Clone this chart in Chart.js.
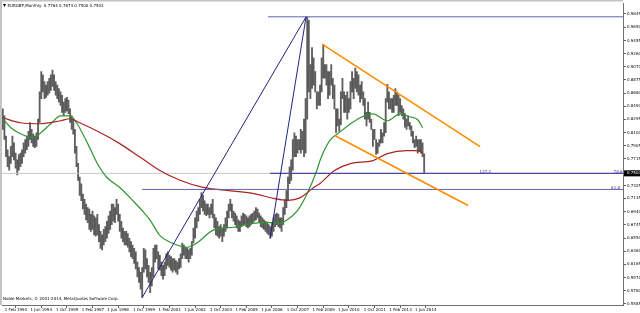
<!DOCTYPE html>
<html>
<head>
<meta charset="utf-8">
<script src="https://cdn.jsdelivr.net/npm/chart.js@4.4.0/dist/chart.umd.min.js"></script>
<style>
  html, body { margin: 0; padding: 0; background: #fff; }
  #wrap { position: relative; width: 640px; height: 313px; }
</style>
</head>
<body>
<div id="wrap"><canvas id="chart"></canvas></div>
<script>
// x values are month indexes, 0 = Feb 1993
const xTickMonths = [0, 16, 32, 48, 64, 80, 96, 112, 128, 144, 160, 176, 192, 208, 224, 240, 256];
const xTickLabels = ['1 Feb 1993', '1 Jun 1994', '1 Oct 1995', '1 Feb 1997', '1 Jun 1998', '1 Oct 1999',
  '1 Feb 2001', '1 Jun 2002', '1 Oct 2003', '1 Feb 2005', '1 Jun 2006', '1 Oct 2007', '1 Feb 2009',
  '1 Jun 2010', '1 Oct 2011', '1 Feb 2013', '1 Jun 2014'];
const yTickLabels = ['0.5585', '0.5780', '0.5970', '0.6165', '0.6360', '0.6550', '0.6745', '0.6940',
  '0.7135', '0.7325', '0.7520', '0.7715', '0.7905', '0.8100', '0.8295', '0.8490', '0.8680', '0.8875',
  '0.9070', '0.9260', '0.9455', '0.9650', '0.9845'];

const titleText = 'EURGBP,Monthly  0.7764 0.7674 0.7500 0.7503';
const footerText = 'Noble Markets, \u00a9 2001-2014, MetaQuotes Software Corp.';
const lastClose = 0.7503;

// monthly highs / lows, Feb 1993 .. Jan 2015
const highs = [
  0.845, 0.835, 0.805, 0.785, 0.775, 0.790, 0.805, 0.795, 0.780, 0.770, 0.778,           // 1993
  0.780, 0.785, 0.795, 0.800, 0.805, 0.812, 0.825, 0.815, 0.808, 0.805, 0.810, 0.830,    // 1994
  0.870, 0.900, 0.895, 0.885, 0.880, 0.885, 0.890, 0.895, 0.902, 0.895, 0.885, 0.880,    // 1995
  0.875, 0.870, 0.865, 0.855, 0.860, 0.862, 0.858, 0.845, 0.835, 0.830, 0.815, 0.790,    // 1996
  0.765, 0.745, 0.735, 0.720, 0.712, 0.705, 0.700, 0.698, 0.690, 0.695, 0.688, 0.685,    // 1997
  0.690, 0.675, 0.665, 0.660, 0.668, 0.672, 0.680, 0.688, 0.695, 0.705, 0.705, 0.700,    // 1998
  0.712, 0.705, 0.690, 0.680, 0.670, 0.665, 0.665, 0.662, 0.655, 0.650, 0.645, 0.640,    // 1999
  0.635, 0.620, 0.612, 0.605, 0.612, 0.640, 0.638, 0.625, 0.615, 0.605, 0.612, 0.640,    // 2000
  0.645, 0.645, 0.635, 0.630, 0.620, 0.615, 0.620, 0.632, 0.635, 0.630, 0.628, 0.625,    // 2001
  0.625, 0.622, 0.620, 0.625, 0.632, 0.648, 0.645, 0.642, 0.640, 0.638, 0.640, 0.650,    // 2002
  0.670, 0.685, 0.695, 0.700, 0.712, 0.722, 0.718, 0.710, 0.705, 0.705, 0.700, 0.705,    // 2003
  0.712, 0.690, 0.685, 0.680, 0.672, 0.675, 0.670, 0.675, 0.685, 0.695, 0.705, 0.712,    // 2004
  0.705, 0.695, 0.692, 0.688, 0.682, 0.680, 0.688, 0.692, 0.690, 0.688, 0.685, 0.688,    // 2005
  0.690, 0.692, 0.695, 0.700, 0.698, 0.692, 0.688, 0.685, 0.682, 0.680, 0.678, 0.675,    // 2006
  0.672, 0.678, 0.685, 0.690, 0.692, 0.690, 0.685, 0.685, 0.700, 0.712, 0.725, 0.745,    // 2007
  0.760, 0.770, 0.800, 0.810, 0.805, 0.800, 0.800, 0.815, 0.812, 0.830, 0.860, 0.980,    // 2008
  0.975, 0.910, 0.935, 0.920, 0.900, 0.870, 0.870, 0.880, 0.920, 0.940, 0.910, 0.910,    // 2009
  0.900, 0.900, 0.910, 0.890, 0.880, 0.845, 0.845, 0.830, 0.870, 0.890, 0.870, 0.865,    // 2010
  0.870, 0.860, 0.885, 0.900, 0.890, 0.905, 0.900, 0.895, 0.880, 0.885, 0.870, 0.860,    // 2011
  0.840, 0.855, 0.840, 0.830, 0.815, 0.815, 0.800, 0.795, 0.800, 0.815, 0.810, 0.825,    // 2012
  0.860, 0.881, 0.870, 0.860, 0.860, 0.865, 0.875, 0.870, 0.865, 0.860, 0.850, 0.845,    // 2013
  0.838, 0.830, 0.835, 0.825, 0.820, 0.812, 0.800, 0.805, 0.800, 0.800, 0.800, 0.795,    // 2014
  0.779                                                                                  // 2015
];
const lows = [
  0.815, 0.800, 0.775, 0.760, 0.755, 0.765, 0.775, 0.770, 0.758, 0.748, 0.755,
  0.760, 0.765, 0.775, 0.780, 0.785, 0.790, 0.800, 0.795, 0.790, 0.788, 0.790, 0.800,
  0.825, 0.860, 0.870, 0.860, 0.862, 0.865, 0.868, 0.872, 0.878, 0.872, 0.865, 0.860,
  0.855, 0.850, 0.840, 0.835, 0.840, 0.842, 0.838, 0.825, 0.815, 0.808, 0.780, 0.760,
  0.740, 0.718, 0.710, 0.698, 0.690, 0.682, 0.678, 0.668, 0.665, 0.668, 0.660, 0.658,
  0.660, 0.650, 0.640, 0.638, 0.645, 0.650, 0.655, 0.662, 0.668, 0.675, 0.680, 0.678,
  0.690, 0.680, 0.665, 0.655, 0.650, 0.645, 0.645, 0.642, 0.635, 0.628, 0.625, 0.618,
  0.610, 0.598, 0.590, 0.580, 0.568, 0.605, 0.610, 0.598, 0.590, 0.575, 0.585, 0.598,
  0.620, 0.625, 0.610, 0.608, 0.600, 0.595, 0.600, 0.610, 0.615, 0.612, 0.608, 0.605,
  0.608, 0.605, 0.602, 0.610, 0.612, 0.625, 0.630, 0.625, 0.625, 0.620, 0.625, 0.630,
  0.648, 0.655, 0.670, 0.680, 0.690, 0.700, 0.695, 0.690, 0.688, 0.690, 0.685, 0.690,
  0.685, 0.670, 0.660, 0.658, 0.655, 0.658, 0.650, 0.658, 0.665, 0.670, 0.685, 0.695,
  0.685, 0.680, 0.675, 0.670, 0.665, 0.665, 0.672, 0.675, 0.675, 0.672, 0.670, 0.672,
  0.675, 0.678, 0.680, 0.682, 0.685, 0.678, 0.672, 0.670, 0.668, 0.665, 0.662, 0.660,
  0.655, 0.658, 0.665, 0.672, 0.675, 0.672, 0.670, 0.665, 0.675, 0.690, 0.700, 0.710,
  0.735, 0.740, 0.755, 0.775, 0.775, 0.780, 0.785, 0.780, 0.785, 0.775, 0.780, 0.830,
  0.870, 0.860, 0.875, 0.880, 0.870, 0.845, 0.850, 0.850, 0.870, 0.890, 0.890, 0.880,
  0.860, 0.865, 0.880, 0.860, 0.845, 0.810, 0.820, 0.812, 0.822, 0.860, 0.840, 0.840,
  0.830, 0.840, 0.845, 0.870, 0.860, 0.875, 0.870, 0.865, 0.855, 0.860, 0.850, 0.830,
  0.820, 0.830, 0.825, 0.815, 0.790, 0.800, 0.778, 0.780, 0.790, 0.795, 0.795, 0.805,
  0.810, 0.855, 0.845, 0.845, 0.840, 0.840, 0.850, 0.850, 0.835, 0.840, 0.835, 0.830,
  0.818, 0.815, 0.820, 0.815, 0.805, 0.795, 0.788, 0.790, 0.780, 0.782, 0.780, 0.775,
  0.750
];

// moving averages (month, price)
const maFastMonths = [0, 5, 11, 19, 23, 30, 36, 42, 46, 53, 59, 65, 73, 81, 88, 92, 98, 106, 115, 121,
  131, 144, 156, 165, 173, 177, 184, 190, 196, 198, 204, 209, 223, 231, 240, 248, 254, 259, 262];
const maFastValues = [0.8305, 0.8174, 0.8086, 0.8027, 0.8086, 0.8232, 0.8349, 0.8349, 0.8247, 0.7940,
  0.7647, 0.7442, 0.7296, 0.7106, 0.6930, 0.6813, 0.6592, 0.6476, 0.6417, 0.6476, 0.6665, 0.6711,
  0.6769, 0.6784, 0.6769, 0.6813, 0.6960, 0.7208, 0.7545, 0.7691, 0.7983, 0.8086, 0.8320, 0.8378,
  0.8276, 0.8378, 0.8334, 0.8290, 0.8174];
const maSlowMonths = [0, 11, 23, 36, 42, 48, 61, 73, 86, 98, 111, 125, 140, 156, 169, 177, 186, 194,
  198, 207, 217, 231, 240, 252, 260, 262];
const maSlowValues = [0.8320, 0.8247, 0.8232, 0.8276, 0.8305, 0.8247, 0.8100, 0.7940, 0.7735, 0.7545,
  0.7398, 0.7296, 0.7252, 0.7208, 0.7135, 0.7106, 0.7150, 0.7296, 0.7355, 0.7545, 0.7647, 0.7691,
  0.7793, 0.7837, 0.7837, 0.7793];

// drawn objects: [month, price] end points
const fanLong = [[87, 0.568], [189.3, 0.9803]];
const fanSteep = [[166.8, 0.6548], [189.3, 0.9803]];
const highLevel = [[165.5, 0.9803], [387.1, 0.9803]];
const ext1272 = [[166.8, 0.7503], [387.1, 0.7503]];
const fib618 = [[86.9, 0.7267], [387.1, 0.7267]];
const chanUpper = [[199.3, 0.9402], [297.9, 0.7896]];
const chanLower = [[207.4, 0.8056], [290.4, 0.7032]];
const bidLine = [[-0.5, 0.7503], [387.1, 0.7503]];

const X_MIN = -0.5, X_MAX = 387.1;
const Y_MIN = 0.5569, Y_MAX = 1.0;

const barData = highs.map((h, i) => ({ x: i, y: [lows[i], h] }));
const pts = arr => arr.map(p => ({ x: p[0], y: p[1] }));
const zip = (ms, vs) => ms.map((m, i) => ({ x: m, y: vs[i] }));

function seg(data, color, width, order) {
  return {
    type: 'line', data: pts(data), borderColor: color, borderWidth: width,
    pointRadius: 0, tension: 0, order: order
  };
}

const decor = {
  id: 'decor',
  beforeDraw(chart) {
    const ctx = chart.ctx;
    ctx.save();
    ctx.fillStyle = '#fff';
    ctx.fillRect(0, 0, chart.width, chart.height);
    ctx.restore();
  },
  afterDraw(chart) {
    const { ctx, chartArea: a } = chart;
    const x = chart.scales.x, y = chart.scales.y;
    ctx.save();
    // window frame
    ctx.fillStyle = '#c4c4c4';
    ctx.fillRect(0, 0, 2, a.bottom);
    ctx.fillRect(0, 0, a.right, 1.5);

    ctx.font = '4px "DejaVu Sans"';
    ctx.textBaseline = 'middle';
    ctx.fillStyle = '#000';
    ctx.beginPath();
    ctx.moveTo(3, 4); ctx.lineTo(6, 4); ctx.lineTo(4.5, 7); ctx.closePath();
    ctx.fill();
    ctx.fillText(titleText, 7.5, 5.5);
    ctx.fillText(footerText, 3, 299);

    // level labels
    ctx.fillStyle = '#3a3a96';
    ctx.textAlign = 'left';
    ctx.fillText('127.2', x.getPixelForValue(297.6), y.getPixelForValue(ext1272[0][1]) - 1.8);
    ctx.textAlign = 'right';
    ctx.fillText('78.6', a.right - 0.5, y.getPixelForValue(ext1272[0][1]) - 1.8);
    ctx.fillText('61.8', a.right - 3, y.getPixelForValue(fib618[0][1]) - 1.8);

    // current price box
    const py = y.getPixelForValue(lastClose);
    ctx.fillStyle = '#000';
    ctx.fillRect(a.right + 1, py - 3, 16, 6);
    ctx.fillStyle = '#fff';
    ctx.textAlign = 'left';
    ctx.fillText(lastClose.toFixed(4), a.right + 4, py);
    ctx.restore();
  }
};

new Chart(document.getElementById('chart'), {
  type: 'bar',
  data: {
    datasets: [
      {
        type: 'bar', data: barData, backgroundColor: 'rgba(55,55,55,0.8)',
        barThickness: 1.2, order: 10
      },
      seg(bidLine, '#c8c8c8', 1, 9),
      {
        type: 'line', data: zip(maSlowMonths, maSlowValues), borderColor: '#a82424', borderWidth: 1.2,
        pointRadius: 0, tension: 0.4, cubicInterpolationMode: 'monotone', order: 3
      },
      {
        type: 'line', data: zip(maFastMonths, maFastValues), borderColor: '#2f962f', borderWidth: 1.2,
        pointRadius: 0, tension: 0.4, cubicInterpolationMode: 'monotone', order: 3
      },
      seg(highLevel, '#6464b4', 1, 2),
      seg(ext1272, '#4848a0', 1.2, 2),
      seg(fib618, '#6464b4', 1, 2),
      seg(fanLong, '#24247e', 1, 1),
      seg(fanSteep, '#24247e', 1, 1),
      seg(chanUpper, '#ff8c00', 1.6, 1),
      seg(chanLower, '#ff8c00', 1.6, 1)
    ]
  },
  options: {
    responsive: true,
    maintainAspectRatio: false,
    animation: false,
    events: [],
    layout: { padding: { top: 2, left: 2, right: 0, bottom: 0 } },
    plugins: { legend: { display: false }, tooltip: { enabled: false } },
    scales: {
      x: {
        type: 'linear', min: X_MIN, max: X_MAX, offset: false,
        afterBuildTicks: s => { s.ticks = xTickMonths.map(v => ({ value: v })); },
        afterFit: s => { s.height = 8; },
        ticks: {
          autoSkip: false, maxRotation: 0, align: 'start', labelOffset: 2, padding: 0,
          color: '#000', font: { family: 'DejaVu Sans', size: 4 },
          callback: (v, i) => xTickLabels[i]
        },
        grid: { drawOnChartArea: false, drawTicks: true, tickLength: 3, color: '#606060' },
        border: { display: true, color: '#707070', width: 1 }
      },
      y: {
        type: 'linear', position: 'right', min: Y_MIN, max: Y_MAX, beginAtZero: false,
        afterBuildTicks: s => { s.ticks = yTickLabels.map(t => ({ value: parseFloat(t) })); },
        afterFit: s => { s.width = 17; },
        ticks: {
          autoSkip: false, padding: 1, color: '#000',
          font: { family: 'DejaVu Sans', size: 4 },
          callback: (v, i) => yTickLabels[i]
        },
        grid: { drawOnChartArea: false, drawTicks: true, tickLength: 3, color: '#606060' },
        border: { display: true, color: '#707070', width: 1 }
      }
    }
  },
  plugins: [decor]
});
</script>
</body>
</html>
